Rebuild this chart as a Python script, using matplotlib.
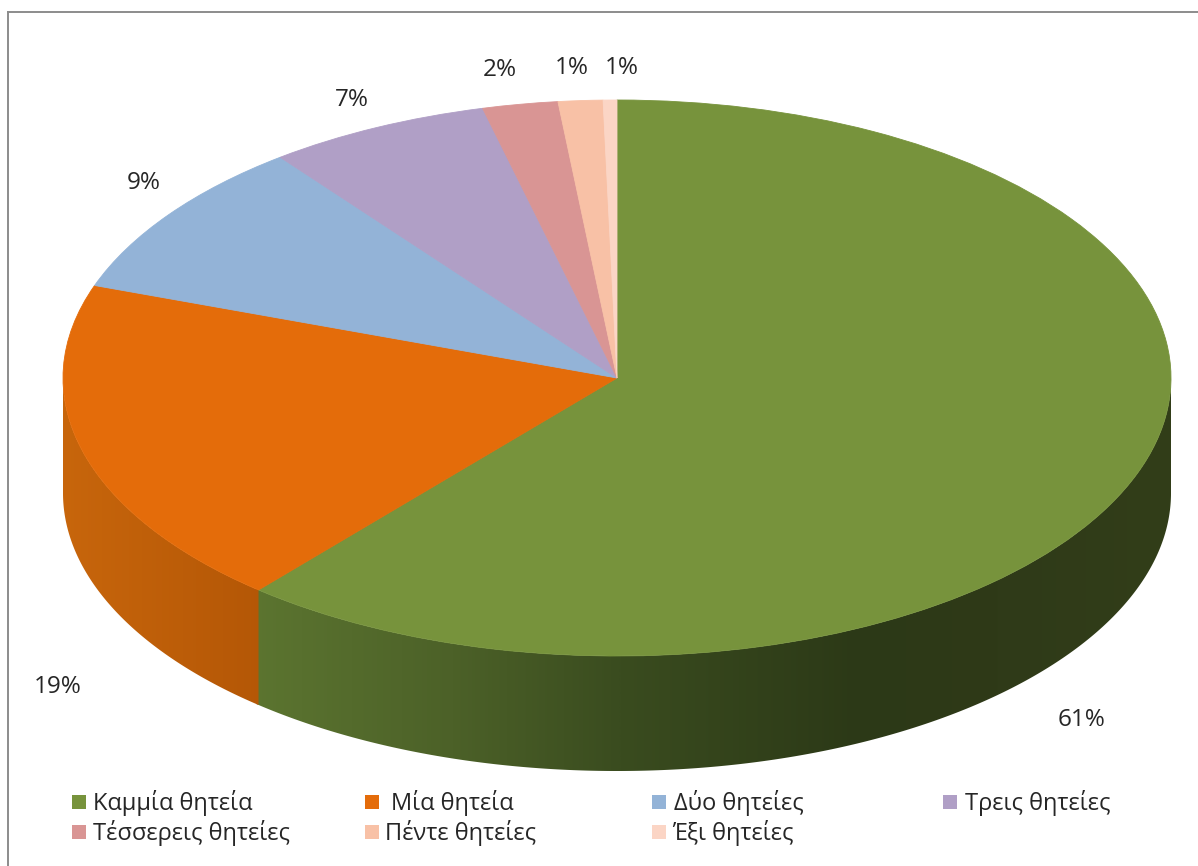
import numpy as np
import matplotlib
matplotlib.use("Agg")
import matplotlib.pyplot as plt
from matplotlib.patches import Polygon, Rectangle
from matplotlib.colors import LinearSegmentedColormap

categories = ["Καμμία θητεία", "Μία θητεία", "Δύο θητείες", "Τρεις θητείες",
              "Τέσσερεις θητείες", "Πέντε θητείες", "Έξι θητείες"]
values = [61.2, 19.2, 9.2, 6.5, 2.2, 1.3, 0.4]
pct_labels = ["61%", "19%", "9%", "7%", "2%", "1%", "1%"]
colors = ["#77933C", "#E46C0A", "#93B3D7", "#B09FC6", "#D99594", "#F8C1A6", "#FBD5C5"]

W, H = 1198, 866
CX, CY, RX, RY, DEPTH = 617, 378, 554, 278, 115
FONT = "Open Sans"
TEXT = "#262626"

fig = plt.figure(figsize=(W / 100, H / 100), dpi=100, facecolor="white")
ax = fig.add_axes([0, 0, 1, 1])

wedges, _ = ax.pie(values, colors=colors, startangle=90, counterclock=False, radius=1,
                   wedgeprops=dict(linewidth=0, zorder=5))
for w, c in zip(wedges, colors):
    w.set_edgecolor(c)
    w.set_linewidth(0.6)

def px(x, y):
    return (x - CX) / RX, (CY - y) / RY

# side wall gradients: colour by horizontal pixel position
wall_stops = {
    0: [(250, "#5C7530"), (450, "#4C6128"), (620, "#3A4C1F"), (860, "#2C3917"), (1000, "#2F3A18"), (1175, "#323E19")],
    1: [(60, "#C8660C"), (265, "#B45706")],
}
overlap = {0: 0.006, 1: 0.0}
d = DEPTH / RY
cum = np.cumsum([0] + values)
for i, stops in wall_stops.items():
    a0 = np.pi / 2 - 2 * np.pi * cum[i] / cum[-1]
    a1 = np.pi / 2 - 2 * np.pi * cum[i + 1] / cum[-1]
    lo, hi = min(a0, a1) - overlap[i], max(a0, a1)
    t = np.linspace(lo, hi, 1440)
    t = t[np.sin(t) <= 1e-6]
    u, v = np.cos(t), np.sin(t)
    poly = np.vstack([np.c_[u, v], np.c_[u[::-1], v[::-1] - d]])
    patch = Polygon(poly, closed=True, fc="none", ec="none", transform=ax.transData)
    ax.add_patch(patch)
    pos = [(s[0] - stops[0][0]) / (stops[-1][0] - stops[0][0]) for s in stops]
    cmap = LinearSegmentedColormap.from_list("w", list(zip(pos, [s[1] for s in stops])))
    im = ax.imshow(np.linspace(0, 1, 400)[None, :], cmap=cmap, aspect="auto",
                   extent=(px(stops[0][0], 0)[0], px(stops[-1][0], 0)[0], v.min() - d - 0.02, v.max() + 0.02),
                   zorder=3 + 0.1 * i, interpolation="bilinear")
    im.set_clip_path(patch)

ax.set_aspect("auto")
ax.set_xlim(px(0, 0)[0], px(W, 0)[0])
ax.set_ylim(px(0, H)[1], px(0, 0)[1])
ax.axis("off")

# frame
for (x0, y0, x1, y1) in [(8, 12, 8, H), (8, 12, W, 12)]:
    a, b = px(x0, y0), px(x1, y1)
    ax.plot([a[0], b[0]], [a[1], b[1]], color="#8C8C8C", lw=1.4, zorder=1)

# data labels
label_pos = [(1082, 720), (58, 687), (144, 183), (352, 100), (500, 70), (572, 68), (622, 68)]
for s, p in zip(pct_labels, label_pos):
    x, y = px(*p)
    ax.text(x, y, s, ha="center", va="center", fontsize=17.5, color=TEXT, family=FONT, zorder=6)

# legend
square_x = [72, 365, 652, 943, 72, 365, 652]
square_y = [802, 802, 802, 802, 832, 832, 832]
text_x = [93, 391, 674, 965, 93, 385, 672]
for c, name, sx, sy, tx in zip(colors, categories, square_x, square_y, text_x):
    a = px(sx, sy + 7)
    b = px(sx + 14, sy - 7)
    ax.add_patch(Rectangle(a, b[0] - a[0], b[1] - a[1], fc=c, ec="none", zorder=6))
    ax.text(*px(tx, sy + 1), name, ha="left", va="center", fontsize=17, color=TEXT, family=FONT, zorder=6)

fig.savefig("out.png", dpi=100)
